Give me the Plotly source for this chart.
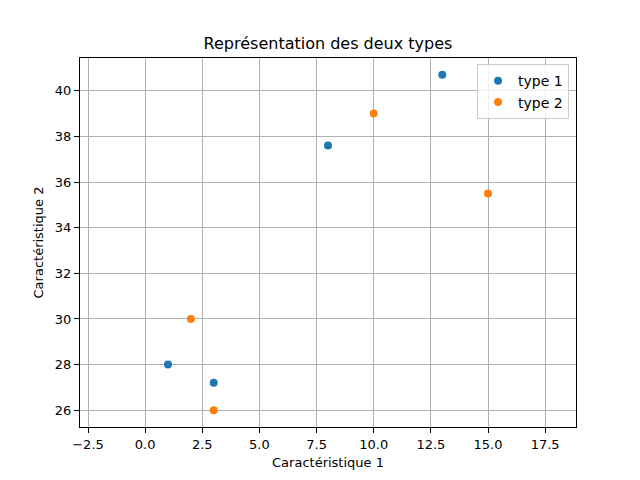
import plotly.graph_objects as go

type1_x = [1, 3, 8, 13]
type1_y = [28, 27.2, 37.6, 40.7]
type2_x = [2, 3, 10, 15]
type2_y = [30, 26, 39, 35.5]

x_ticks = [-2.5, 0, 2.5, 5, 7.5, 10, 12.5, 15, 17.5]
x_ticktext = ["\u22122.5", "0.0", "2.5", "5.0", "7.5", "10.0", "12.5", "15.0", "17.5"]
y_ticks = [26, 28, 30, 32, 34, 36, 38, 40]

font = "DejaVu Sans"
fig = go.Figure()
fig.add_trace(go.Scatter(x=type1_x, y=type1_y, mode="markers", name="type 1",
                         marker=dict(color="#1f77b4", size=8)))
fig.add_trace(go.Scatter(x=type2_x, y=type2_y, mode="markers", name="type 2",
                         marker=dict(color="#ff7f0e", size=8)))

axis_common = dict(showline=True, linecolor="black", linewidth=1, mirror=True,
                   ticks="outside", ticklen=5, tickcolor="black", tickwidth=1,
                   showgrid=True, gridcolor="#b0b0b0", gridwidth=1, zeroline=False,
                   tickfont=dict(family=font, size=13, color="black"))

fig.update_layout(
    width=632, height=472,
    margin=dict(l=72, r=64, t=50, b=53),
    paper_bgcolor="white", plot_bgcolor="white",
    title=dict(text="Représentation des deux types", x=320 / 632, xanchor="center",
               y=1 - 35/472, yanchor="middle", font=dict(family=font, size=16, color="black")),
    xaxis=dict(range=[-2.85, 18.85], tickvals=x_ticks, ticktext=x_ticktext,
               title=dict(text="Caractéristique 1", font=dict(family=font, size=13, color="black"), standoff=7),
               **axis_common),
    yaxis=dict(range=[25.265, 41.435], tickvals=y_ticks,
               title=dict(text="Caractéristique 2", font=dict(family=font, size=13, color="black"), standoff=8),
               **axis_common),
    legend=dict(x=0.986, y=0.983, xanchor="right", yanchor="top",
                bgcolor="rgba(255,255,255,0.8)", bordercolor="#cccccc", borderwidth=1,
                itemwidth=30, tracegroupgap=4,
                font=dict(family=font, size=14, color="black")),
    showlegend=True,
)
fig.write_html("out.html")
